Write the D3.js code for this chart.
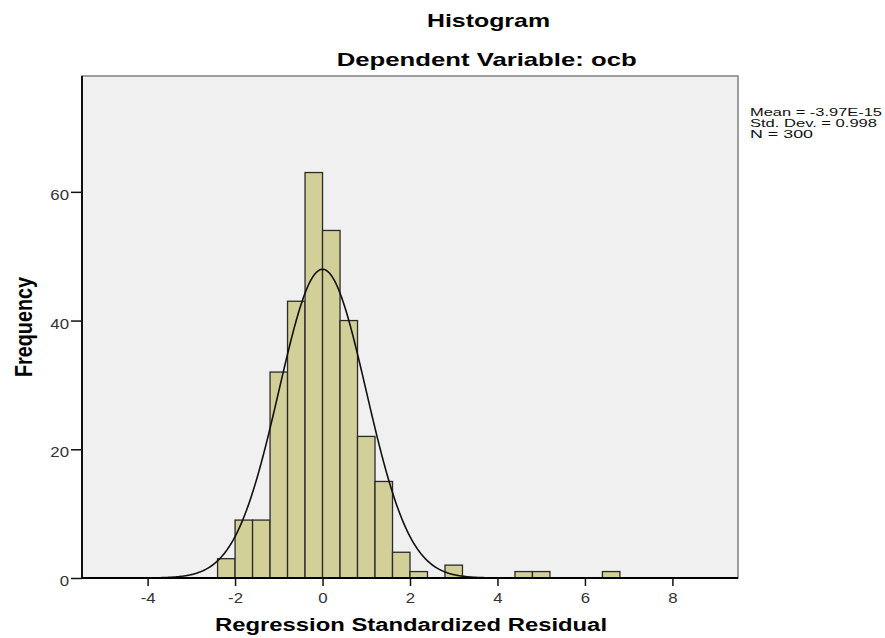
<!doctype html>
<html>
<head>
    <meta charset="utf-8">
    <style>
        body {
            margin: 0;
            background: #ffffff;
        }

        svg text {
            font-family: "Liberation Sans", Arial, sans-serif;
        }

        .bar {
            fill: #d3cf99;
            stroke: #2a2a2a;
            stroke-width: 1.3;
        }
</style>
    <script src="https://d3js.org/d3.v7.min.js"></script>
</head>
<body>
    <svg width="885" height="638"></svg>
    <script>

        // lower edge of each bin (width 0.4) and its frequency
        var binStarts = [-2.4, -2.0, -1.6, -1.2, -0.8, -0.4, 0.0, 0.4, 0.8, 1.2, 1.6, 2.0,
                         2.4, 2.8, 3.2, 3.6, 4.0, 4.4, 4.8, 5.2, 5.6, 6.0, 6.4];
        var counts = [3, 9, 9, 32, 43, 63, 54, 40, 22, 15, 4, 1,
                      0, 2, 0, 0, 0, 1, 1, 0, 0, 0, 1];
        var binWidth = 0.4;

        var xTicks = [-4, -2, 0, 2, 4, 6, 8];
        var yTicks = [0, 20, 40, 60];

        // summary shown at the right, also used for the normal curve
        var statLabels = ["Mean = -3.97E-15", "Std. Dev. = 0.998", "N = 300"];
        var mean = -3.97e-15,
            sd = 0.998,
            n = 300;

        var svg = d3.select("svg");

        // the original picture is stretched sideways, so text is too
        var sx = 1.2;

        var plotLeft = 82, plotRight = 738, plotTop = 76, plotBottom = 578;

        var x = d3.scaleLinear().domain([-5.5, 9.5]).range([plotLeft, plotRight]),
            y = d3.scaleLinear().domain([0, 78]).range([plotBottom, plotTop]);

        svg.append("text")
           .attr("x", 488.5)
           .attr("y", 27)
           .attr("text-anchor", "middle")
           .attr("font-size", "19px")
           .attr("font-weight", "bold")
           .attr("textLength", 123)
           .attr("lengthAdjust", "spacingAndGlyphs")
           .text("Histogram");

        svg.append("text")
           .attr("x", 486.7)
           .attr("y", 66)
           .attr("text-anchor", "middle")
           .attr("font-size", "19px")
           .attr("font-weight", "bold")
           .attr("textLength", 300)
           .attr("lengthAdjust", "spacingAndGlyphs")
           .text("Dependent Variable: ocb");

        // plot background with the grey frame on top and right
        svg.append("rect")
           .attr("x", plotLeft)
           .attr("y", plotTop)
           .attr("width", plotRight - plotLeft)
           .attr("height", plotBottom - plotTop)
           .attr("fill", "#f0f0f0")
           .attr("stroke", "#808080")
           .attr("stroke-width", 1.5);

        svg.append("clipPath")
           .attr("id", "plot")
           .append("rect")
           .attr("x", plotLeft)
           .attr("y", plotTop)
           .attr("width", plotRight - plotLeft)
           .attr("height", plotBottom - plotTop);

        var bins = binStarts.map(function(s, i) {
            return { x0: s, x1: s + binWidth, count: counts[i] };
        }).filter(function(d) { return d.count > 0; });

        svg.append("g")
           .selectAll(".bar")
           .data(bins)
           .enter().append("rect")
           .attr("class", "bar")
           .attr("x", function(d) { return x(d.x0); })
           .attr("y", function(d) { return y(d.count); })
           .attr("width", function(d) { return x(d.x1) - x(d.x0); })
           .attr("height", function(d) { return y(0) - y(d.count); });

        // fitted normal curve, scaled to counts per bin
        var curveXs = d3.range(-5.5, 9.5001, 0.02);
        var line = d3.line()
            .x(function(v) { return x(v); })
            .y(function(v) {
                var z = (v - mean) / sd;
                return y(n * binWidth * Math.exp(-0.5 * z * z) / (sd * Math.sqrt(2 * Math.PI)));
            });

        svg.append("path")
           .datum(curveXs)
           .attr("clip-path", "url(#plot)")
           .attr("fill", "none")
           .attr("stroke", "#111111")
           .attr("stroke-width", 1.6)
           .attr("d", line);

        // axes, plain hyphen for negatives like the original
        var xAxis = svg.append("g")
           .attr("transform", "translate(0," + plotBottom + ")")
           .call(d3.axisBottom(x).tickValues(xTicks).tickSize(8)
                   .tickFormat(function(d) { return String(d); }));

        var yAxis = svg.append("g")
           .attr("transform", "translate(" + plotLeft + ",0)")
           .call(d3.axisLeft(y).tickValues(yTicks).tickSize(11));

        [xAxis, yAxis].forEach(function(a) {
            a.select(".domain").attr("stroke", "#000000").attr("stroke-width", 1.8);
            a.selectAll(".tick line").attr("stroke", "#111111").attr("stroke-width", 1.5);
            a.selectAll(".tick text")
             .attr("font-family", "Liberation Sans, Arial, sans-serif")
             .attr("font-size", "14px")
             .attr("fill", "#333333");
        });

        xAxis.select(".domain").attr("d", "M" + plotLeft + ",0H" + plotRight);
        yAxis.select(".domain").attr("d", "M0," + plotTop + "V" + plotBottom);

        xAxis.selectAll(".tick text")
             .attr("y", 25)
             .attr("dy", 0)
             .attr("transform", "scale(" + sx + ",1)");

        yAxis.selectAll(".tick text")
             .attr("x", -13 / sx)
             .attr("dy", "7.5")
             .attr("transform", "scale(" + sx + ",1)");

        svg.append("text")
           .attr("x", 411)
           .attr("y", 631)
           .attr("text-anchor", "middle")
           .attr("font-size", "18px")
           .attr("font-weight", "bold")
           .attr("textLength", 392)
           .attr("lengthAdjust", "spacingAndGlyphs")
           .text("Regression Standardized Residual");

        svg.append("text")
           .attr("transform", "translate(32,327) scale(1.3,1) rotate(-90)")
           .attr("text-anchor", "middle")
           .attr("font-size", "19px")
           .attr("font-weight", "bold")
           .attr("textLength", 100)
           .attr("lengthAdjust", "spacingAndGlyphs")
           .text("Frequency");

        var statWidths = [132, 127, 63];
        svg.append("g")
           .selectAll("text")
           .data(statLabels)
           .enter().append("text")
           .attr("x", 750)
           .attr("y", function(d, i) { return 115.7 + i * 11; })
           .attr("font-size", "11.5px")
           .attr("fill", "#111111")
           .attr("textLength", function(d, i) { return statWidths[i]; })
           .attr("lengthAdjust", "spacingAndGlyphs")
           .text(function(d) { return d; });

</script>
</body>
</html>
